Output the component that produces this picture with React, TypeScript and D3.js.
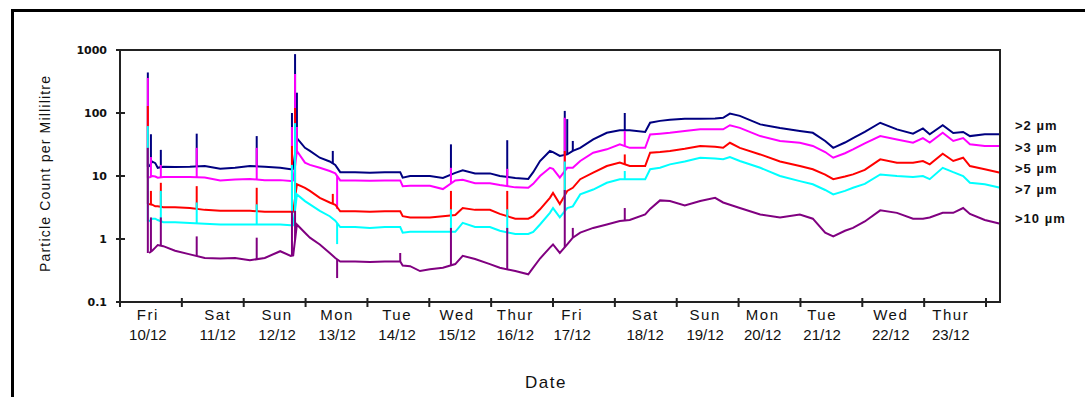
import React from 'react';
import * as d3 from 'd3';

// x axis: days counted from Fri 10/12 00:00
const dayNames = ['Fri', 'Sat', 'Sun', 'Mon', 'Tue', 'Wed', 'Thur', 'Fri', 'Sat', 'Sun', 'Mon', 'Tue', 'Wed', 'Thur'];
const dateLabels = ['10/12', '11/12', '12/12', '13/12', '14/12', '15/12', '16/12', '17/12', '18/12', '19/12', '20/12', '21/12', '22/12', '23/12'];
const labelDays = [0.45, 1.58, 2.54, 3.51, 4.48, 5.45, 6.39, 7.31, 8.49, 9.46, 10.39, 11.35, 12.46, 13.43];
const dayTicks = [0, 1, 2, 3, 4, 5, 6, 7, 8, 9, 10, 11, 12, 13, 14];
const yTicks = [0.1, 1, 10, 100, 1000];
const yTickLabels = ['0.1', '1', '10', '100', '1000'];

const days = [
  0.47, 0.52, 0.57, 0.61, 0.70, 0.89, 1.13, 1.37, 1.62, 1.86,
  2.10, 2.34, 2.59, 2.76, 2.80, 2.86, 2.99, 3.07, 3.23, 3.39,
  3.48, 3.56, 3.80, 4.04, 4.28, 4.53, 4.57, 4.69, 4.85, 5.01,
  5.22, 5.42, 5.54, 5.74, 5.98, 6.14, 6.39, 6.60, 6.68, 6.79,
  6.95, 7.00, 7.11, 7.23, 7.32, 7.44, 7.65, 7.87, 8.08, 8.24,
  8.49, 8.57, 8.73, 8.89, 9.13, 9.38, 9.62, 9.75, 9.86, 10.02,
  10.35, 10.67, 10.99, 11.20, 11.40, 11.53, 11.72, 11.85, 12.04, 12.29,
  12.56, 12.82, 12.98, 13.09, 13.30, 13.47, 13.63, 13.74, 13.98, 14.23,
];

const gt2 = [
  14, 17, 16, 13.5, 14, 13.9, 14, 14.4, 13, 13.5,
  14.4, 14, 13.5, 12.8, 13, 40, 28, 25, 19.5, 17,
  15, 11.5, 11.5, 11.3, 11.5, 11.5, 9.4, 10, 10, 10,
  9.3, 11.2, 12.3, 11, 11, 10, 9.3, 9, 11.5, 17.3,
  25, 24, 20.8, 22, 25, 28, 38, 48.5, 53, 53,
  50, 70, 75, 78, 81, 81, 82, 84, 98, 90,
  66, 58, 52, 48.5, 36, 28, 34, 40, 50, 70,
  55, 47, 57, 46, 64, 48, 50, 43, 46, 46,
];
const gt3 = [
  9.4, 10, 9.8, 9.4, 9.6, 9.6, 9.6, 9.5, 8.5, 8.8,
  9, 8.6, 8.6, 8.3, 8.5, 25, 16.3, 15, 13.5, 12,
  11, 8.5, 8.5, 8.4, 8.5, 8.5, 6.9, 7, 7, 7,
  6.2, 8.5, 8.7, 7.7, 7.7, 7.2, 6.6, 6.5, 7.5, 10,
  13.5, 13, 9.4, 13.5, 13.5, 17.3, 23.4, 26.5, 31.8, 28,
  28, 45.6, 47, 48.5, 52, 55, 55, 55, 64, 58,
  43, 36, 33.7, 30, 24, 19.5, 23, 26.5, 33, 43,
  38, 33.7, 40, 34, 48.5, 36, 40, 32, 30, 30,
];
const gt5 = [
  3.6, 3.5, 3.3, 3.3, 3.2, 3.2, 3.1, 2.9, 2.8, 2.8,
  2.8, 2.7, 2.7, 2.7, 2.7, 7.4, 6.5, 5.8, 4.5, 3.8,
  3.5, 2.75, 2.75, 2.7, 2.75, 2.75, 2.3, 2.2, 2.2, 2.2,
  2.3, 2.4, 3.1, 2.9, 2.9, 2.5, 2.1, 2.1, 2.3, 2.96,
  4.5, 5.4, 3.6, 5.8, 6.5, 8.9, 11.3, 14.4, 16.3, 14.4,
  14.4, 23.4, 24, 25, 27, 30, 29, 28, 33.7, 28,
  22, 17, 14.4, 12.8, 10.5, 8.9, 9.8, 10.6, 12.5, 18.4,
  16.3, 16.3, 17.3, 15.3, 22.6, 17.3, 19.5, 14.4, 12.8, 11.3,
];
const gt7 = [
  1.9, 2.1, 2.1, 2.0, 1.85, 1.85, 1.8, 1.75, 1.7, 1.7,
  1.7, 1.7, 1.7, 1.65, 1.65, 5.1, 4, 3.55, 2.8, 2.3,
  1.95, 1.55, 1.55, 1.5, 1.55, 1.55, 1.26, 1.3, 1.3, 1.3,
  1.3, 1.3, 1.8, 1.55, 1.55, 1.35, 1.2, 1.2, 1.3, 1.7,
  2.6, 3.1, 2.2, 3.1, 3.3, 5.1, 6.1, 7.8, 8.9, 8.9,
  8.9, 12.8, 13.5, 15.3, 17, 19.5, 19, 18.4, 20, 17.3,
  13.5, 10, 8.3, 7.4, 6, 5.1, 5.8, 6.5, 7.5, 10.6,
  10, 9.6, 10, 8.9, 13.5, 11.5, 10, 7.8, 7.4, 6.5,
];
const gt10 = [
  0.6, 0.65, 0.73, 0.8, 0.77, 0.65, 0.57, 0.5, 0.49, 0.5,
  0.46, 0.5, 0.64, 0.54, 0.55, 1.7, 1.26, 1.05, 0.82, 0.6,
  0.5, 0.44, 0.44, 0.43, 0.44, 0.44, 0.38, 0.37, 0.31, 0.33,
  0.35, 0.4, 0.54, 0.48, 0.4, 0.35, 0.31, 0.275, 0.35, 0.49,
  0.73, 0.82, 0.6, 0.82, 1.05, 1.26, 1.5, 1.7, 1.93, 2.0,
  2.45, 3.0, 4.1, 4, 3.4, 4, 4.5, 3.8, 3.5, 3.1,
  2.45, 2.2, 2.45, 2.1, 1.26, 1.1, 1.35, 1.5, 1.9, 2.85,
  2.6, 2.1, 2.1, 2.2, 2.6, 2.6, 3.1, 2.5, 2.0, 1.75,
];

// short spikes (peak reading at that moment, null = no spike in that size band)
const spikeDays = [0.45, 0.50, 0.66, 1.24, 2.21, 2.78, 2.83, 2.86, 3.44, 3.51, 4.53, 5.35, 6.26, 7.19, 7.23, 7.32, 8.16];
const gt2Spikes = [440, 46, 26, 47, 43, 100, 860, 210, 25, null, null, 31.8, 37, 108, 80, 36, 100];
const gt3Spikes = [360, 20, 15, 28, 28, 60, 416, 60, null, 3, null, 13.5, 13, 84, null, null, 52];
const gt5Spikes = [129, 5.8, 7.8, 6.9, 6.5, 30, 120, null, 5.2, null, null, 5.8, 5.8, 25, null, null, 22];
const gt7Spikes = [62, null, 5.8, 3.8, 3.55, 15, 69, null, null, 0.83, null, 2.96, 2.96, 17, null, null, 12];
const gt10Spikes = [28, 2.2, 2.2, 1.1, 1.05, 2.8, 2.8, null, null, 0.24, 0.6, 1.5, 1.5, 6, null, 1.5, 3.1];

const seriesNames = ['>2 µm', '>3 µm', '>5 µm', '>7 µm', '>10 µm'];
const seriesValues = [gt2, gt3, gt5, gt7, gt10];
const seriesSpikes = [gt2Spikes, gt3Spikes, gt5Spikes, gt7Spikes, gt10Spikes];
const seriesColors = ['#000080', '#FF00FF', '#FF0000', '#00FFFF', '#800080'];
const legendY = [125, 147, 168, 189, 218];

const W = 1085;
const H = 397;
const plot = { left: 120, right: 1000, top: 50, bottom: 302 };

export default function App() {
  const x = d3.scaleLinear().domain([0, 14.226]).range([plot.left, plot.right]);
  const y = d3.scaleLog().domain([0.1, 1000]).range([plot.bottom, plot.top]);

  const line = d3.line<number>()
    .x((_, i) => x(days[i]))
    .y((d) => y(d));

  const baseAt = (vals: number[], day: number) => {
    const i = d3.bisectLeft(days, day);
    if (i <= 0) return vals[0];
    if (i >= days.length) return vals[vals.length - 1];
    const t = (day - days[i - 1]) / (days[i] - days[i - 1]);
    return Math.exp(Math.log(vals[i - 1]) * (1 - t) + Math.log(vals[i]) * t);
  };

  const axisColor = '#222';
  const tickFont = '"DejaVu Sans", sans-serif';
  const labelFont = '"Liberation Sans", Arial, sans-serif';

  return (
    <svg width={W} height={H} style={{ position: 'absolute', left: 0, top: 0, background: '#fff' }}>
      <rect x={0} y={0} width={W} height={H} fill="#fff" />
      {/* outer frame */}
      <rect x={12.5} y={10.5} width={W + 20} height={H + 20} fill="none" stroke="#000" strokeWidth={3} />

      {/* series */}
      {seriesValues.map((vals, si) => (
        <g key={si}>
          <path d={line(vals) || ''} fill="none" stroke={seriesColors[si]} strokeWidth={2} strokeLinejoin="miter" />
          {seriesSpikes[si].map((peak, k) => {
            if (peak == null) return null;
            const day = spikeDays[k];
            return (
              <line key={k} x1={x(day)} x2={x(day)} y1={y(baseAt(vals, day))} y2={y(peak)}
                stroke={seriesColors[si]} strokeWidth={2} />
            );
          })}
        </g>
      ))}

      {/* plot frame */}
      <rect x={plot.left} y={plot.top} width={plot.right - plot.left} height={plot.bottom - plot.top}
        fill="none" stroke={axisColor} strokeWidth={2} />

      {/* y axis ticks */}
      {yTicks.map((t, i) => (
        <g key={t}>
          <line x1={plot.left - 4} x2={plot.left + 5} y1={y(t)} y2={y(t)} stroke={axisColor} strokeWidth={2} />
          <text x={plot.left - 13} y={y(t)} dy="0.36em" textAnchor="end" fontFamily={tickFont} fontSize={11} fontWeight="bold" fill="#111">
            {yTickLabels[i]}
          </text>
        </g>
      ))}

      {/* x axis ticks */}
      {dayTicks.map((d) => (
        <line key={d} x1={x(d)} x2={x(d)} y1={plot.bottom - 4} y2={plot.bottom + 5} stroke={axisColor} strokeWidth={2} />
      ))}
      {labelDays.map((d, i) => (
        <g key={i} fontFamily={labelFont} fontSize={15} fill="#111" textAnchor="middle">
          <text x={x(d)} y={320} letterSpacing={1.5}>{dayNames[i]}</text>
          <text x={x(d)} y={340}>{dateLabels[i]}</text>
        </g>
      ))}

      {/* axis titles */}
      <text transform="translate(50,174) rotate(-90)" textAnchor="middle" fontFamily={labelFont} fontSize={14}
        textLength={196} lengthAdjust="spacing" fill="#111">
        Particle Count per Millilitre
      </text>
      <text x={546} y={388} textAnchor="middle" fontFamily={labelFont} fontSize={17} letterSpacing={1.5} fill="#111">
        Date
      </text>

      {/* series labels */}
      {seriesNames.map((n, i) => (
        <text key={n} x={1015} y={legendY[i]} dy="0.35em" fontFamily={labelFont} fontSize={13} letterSpacing={1}
          fontWeight="bold" fill="#111">
          {n}
        </text>
      ))}
    </svg>
  );
}
